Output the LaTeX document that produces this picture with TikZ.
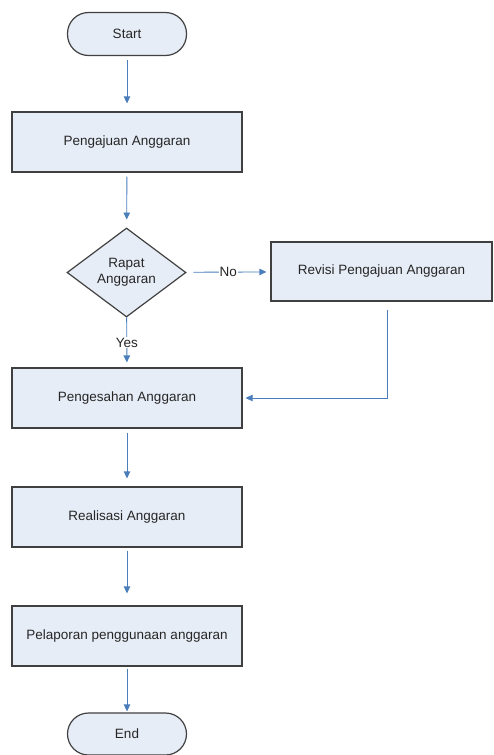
\documentclass[tikz,border=0pt]{standalone}
\usepackage{fontspec}
\setmainfont{Liberation Sans}
\usetikzlibrary{shapes.geometric,arrows.meta}
\definecolor{boxfill}{HTML}{E7EDF7}
\definecolor{boxline}{HTML}{404040}
\definecolor{arrowblue}{HTML}{4A7EBB}
\begin{document}
\begin{tikzpicture}[x=1pt,y=-1pt,
 every node/.style={font=\fontsize{13.5}{15.5}\selectfont, text=black!85},
 procbox/.style={draw=boxline, fill=boxfill, line width=1.2pt, minimum width=230pt, minimum height=60pt, inner sep=0pt},
 term/.style={draw=boxline, fill=boxfill, line width=1.2pt, rounded corners=21pt, minimum width=119pt, minimum height=43pt, inner sep=0pt},
 decision/.style={diamond, draw=boxline, fill=boxfill, line width=1.2pt, minimum width=119pt, minimum height=89pt, inner sep=0pt, align=center},
 flow/.style={draw=arrowblue, line width=0.9pt, -{Triangle[length=7pt,width=6.5pt]}, shorten <=4pt, shorten >=8pt},
 lbl/.style={fill=white, inner sep=1pt}]
\useasboundingbox (0,0) rectangle (493,755);
\node[term] (start) at (127,34) {Start};
\node[procbox] (pengajuan) at (127,142) {Pengajuan Anggaran};
\node[decision] (rapat) at (126.5,272.5) {Rapat\\Anggaran};
\node[procbox, minimum width=221pt, minimum height=59pt] (revisi) at (381.5,271.5) {Revisi Pengajuan Anggaran};
\node[procbox] (pengesahan) at (127,398) {Pengesahan Anggaran};
\node[procbox] (realisasi) at (127,517) {Realisasi Anggaran};
\node[procbox] (pelaporan) at (127,636) {Pelaporan penggunaan anggaran};
\node[term, minimum height=42pt] (end) at (127,734) {End};
\draw[flow] (start) -- (pengajuan);
\draw[flow] (pengajuan) -- (rapat);
\draw[flow, shorten <=7pt, shorten >=4pt] (rapat) -- node[lbl, pos=0.5] {No} (revisi);
\draw[flow, shorten <=0pt, shorten >=5pt] (rapat) -- node[lbl] {Yes} (pengesahan);
\draw[flow, shorten <=0pt, shorten >=3pt] ([shift={(6,8)}]revisi.south) |- (pengesahan.east);
\draw[flow] (pengesahan) -- (realisasi);
\draw[flow, shorten <=3pt, shorten >=12pt] (realisasi) -- (pelaporan);
\draw[flow, shorten <=2pt, shorten >=1pt] (pelaporan) -- (end);
\end{tikzpicture}
\end{document}
